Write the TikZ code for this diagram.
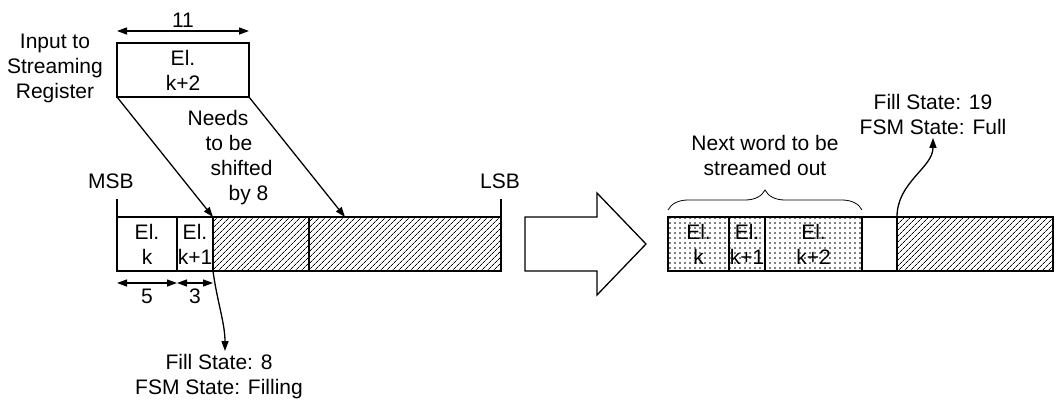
\documentclass[tikz,border=0pt]{standalone}
\usepackage{fontspec}
\setmainfont{Liberation Sans}
\usetikzlibrary{arrows.meta,positioning,patterns.meta,decorations.pathreplacing}

\begin{document}
\begin{tikzpicture}[x=1pt, y=-1pt, >={Triangle[length=10pt,width=7pt]},
  font=\fontsize{21}{25}\selectfont, line width=1.3pt,
  cell/.style={draw, minimum height=54pt, inner sep=0pt, outer sep=0pt, align=center},
  hatch/.style={cell, pattern={Lines[angle=45,distance=4pt,line width=0.8pt]}},
  dotcell/.style={cell, pattern={Dots[distance=5pt,radius=0.9pt]}},
  txt/.style={align=center, inner sep=3pt}]
  \useasboundingbox (0,0) rectangle (1056,408);

  % input element
  \node[cell, minimum width=132pt, anchor=north west] (in) at (117,43) {El.\\k+2};
  \node[txt] (inlbl) at (55,68) {Input to\\Streaming\\Register};
  \draw[<->] ([yshift=12pt]in.north west) -- node[above]{11} ([yshift=12pt]in.north east);

  % register before the shift
  \node[cell, minimum width=60pt, anchor=north west] (ek) at (117,217) {El.\\k};
  \node[cell, minimum width=36pt, right=0pt of ek] (ek1) {El.\\k+1};
  \node[hatch, minimum width=96pt, right=0pt of ek1] (sh1) {};
  \node[hatch, minimum width=192pt, right=0pt of sh1] (sh2) {};

  \node (msb) at (111,181) {MSB};
  \node (lsb) at (500,181) {LSB};
  \draw (ek.north west) -- ++(0,-18);
  \draw (sh2.north east) -- ++(0,-18);

  \coordinate (hit) at ([xshift=36pt]sh1.north east);
  \draw[->] (in.south west) -- (ek1.north east);
  \draw[->] (in.south east) -- (hit);
  \node[anchor=west, align=left, inner sep=0pt] (note) at (187,158)
    {Needs\\\hspace*{18pt}to be\\\hspace*{23pt}shifted\\\hspace*{41pt}by 8};

  \draw[<->] ([yshift=-12pt]ek.south west) -- node[below=2pt]{5} ([yshift=-12pt]ek.south east);
  \draw[<->] ([yshift=-12pt]ek1.south west) -- node[below=2pt]{3} ([yshift=-12pt]ek1.south east);

  \node[txt] (fs1) at (219,377) {Fill State: 8\\FSM State: Filling};
  \draw[->] (ek1.south east) .. controls +(4,30) and +(0,-28) .. ([xshift=6pt]fs1.north);

  % shift step
  \draw (525,217) -- (597,217) -- (597,193) -- (646,244) -- (597,295) -- (597,271) -- (525,271) -- cycle;

  % register after the shift
  \node[dotcell, minimum width=61pt, anchor=north west] (rk) at (668,217) {El.\\k};
  \node[dotcell, minimum width=36pt, right=0pt of rk] (rk1) {El.\\k+1};
  \node[dotcell, minimum width=97pt, right=0pt of rk1] (rk2) {El.\\k+2};
  \node[cell, minimum width=35pt, right=0pt of rk2] (gap) {};
  \node[hatch, minimum width=156pt, right=0pt of gap] (rsh) {};

  \draw[line width=0.8pt, decorate, decoration={brace, amplitude=20pt}]
    ([yshift=7pt]rk.north west) -- ([yshift=7pt]rk2.north east);
  \node[txt] (next) at (765,155) {Next word to be\\streamed out};

  \node[txt] (fs2) at (933,114) {Fill State: 19\\FSM State: Full};
  \draw[->] (rsh.north west) .. controls +(0,-35) and +(0,30) .. (fs2.south);
\end{tikzpicture}
\end{document}
